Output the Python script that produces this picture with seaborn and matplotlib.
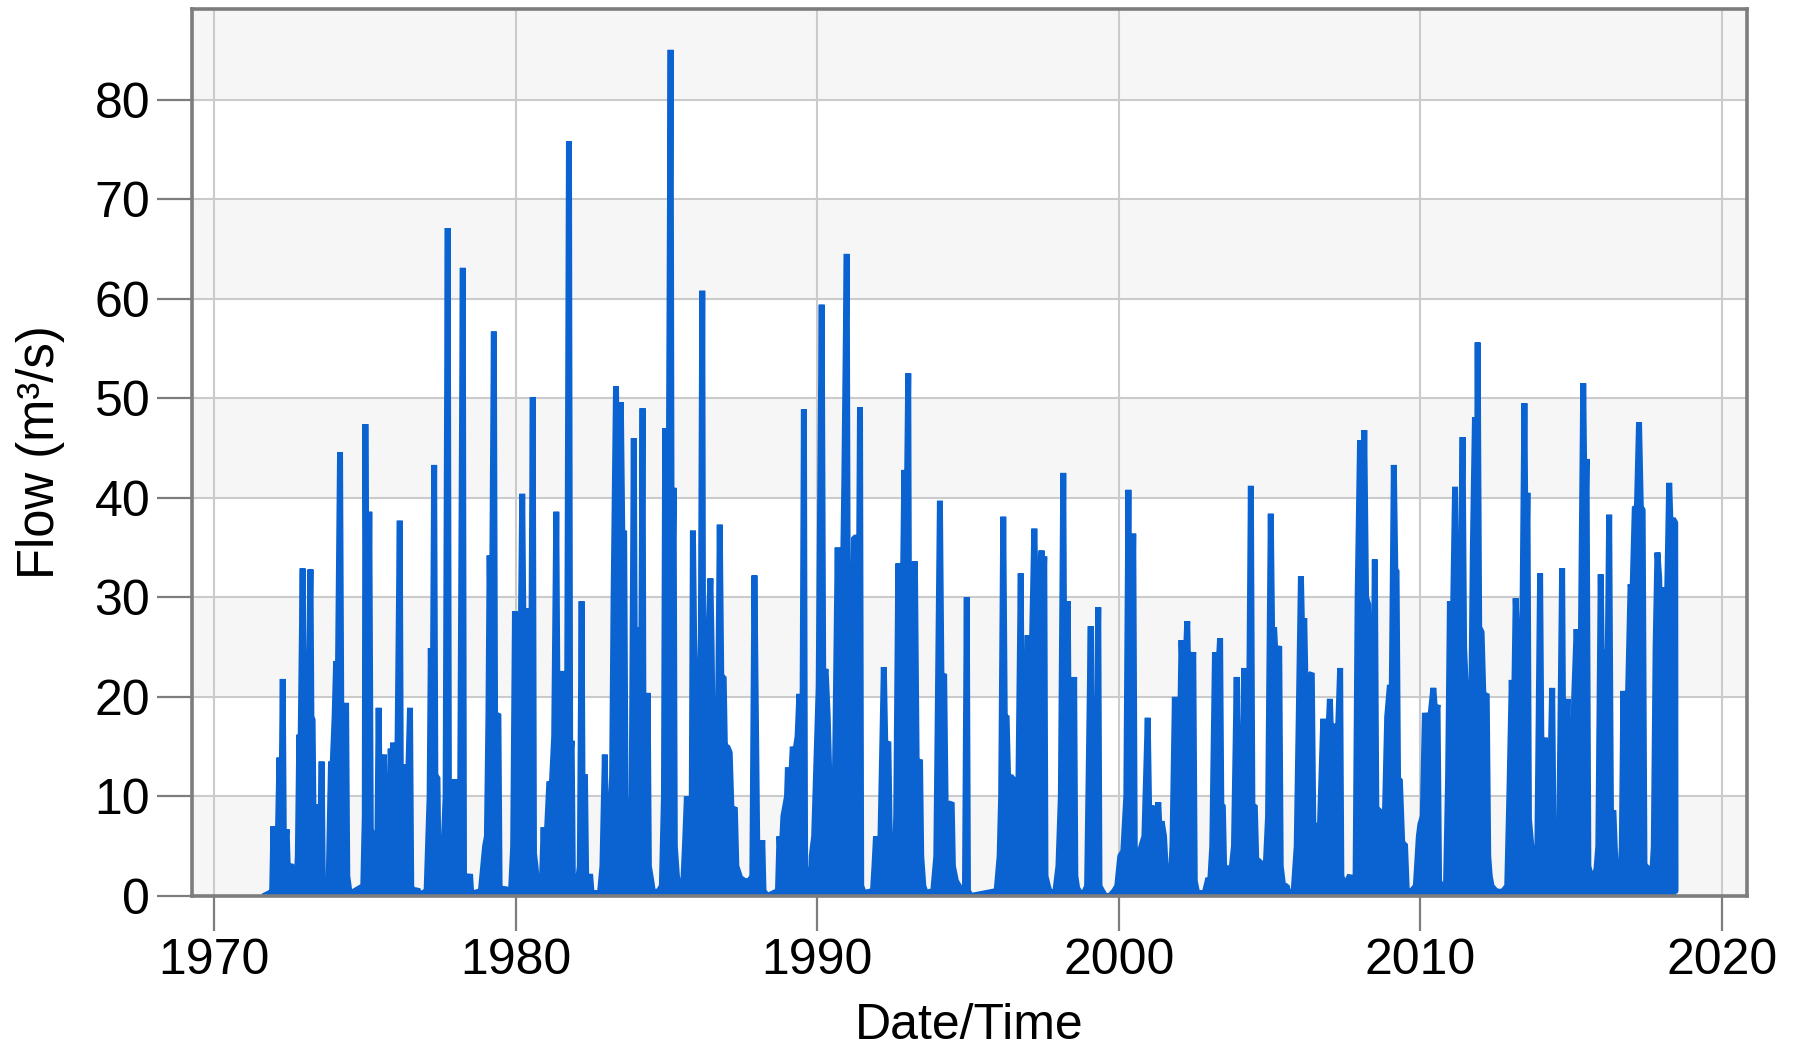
import numpy as np
import pandas as pd
import matplotlib
matplotlib.use("Agg")
import matplotlib.pyplot as plt
import seaborn as sns

# Stream flow record: (decimal year, flow in m³/s) at peaks, shoulders and troughs
flow_1970s = [
    (1971.65, 0.0), (1971.85, 0.3), (1971.93, 0.5),
    (1971.97, 7.0), (1972.00, 1.5), (1972.10, 3.0), (1972.17, 13.9), (1972.22, 3.5),
    (1972.28, 21.8), (1972.32, 4.0), (1972.41, 6.7), (1972.45, 2.5), (1972.56, 3.2),
    (1972.62, 0.8), (1972.72, 0.2),
    (1972.78, 4.0), (1972.83, 16.2), (1972.86, 12.0), (1972.94, 32.9), (1972.98, 14.0),
    (1973.05, 10.0), (1973.10, 14.0), (1973.20, 32.8), (1973.23, 18.0), (1973.27, 17.7),
    (1973.30, 8.0), (1973.38, 9.2), (1973.42, 2.5), (1973.50, 2.0), (1973.57, 13.5),
    (1973.61, 1.0), (1973.70, 0.2),
    (1973.80, 1.0), (1973.88, 13.5), (1973.92, 12.0), (1974.00, 18.0), (1974.05, 23.6),
    (1974.10, 19.0), (1974.18, 44.6), (1974.22, 19.0), (1974.30, 12.0), (1974.38, 19.4),
    (1974.42, 2.0), (1974.50, 0.2),
    (1974.95, 1.0), (1975.00, 8.0), (1975.02, 47.4), (1975.08, 10.0), (1975.15, 38.6),
    (1975.20, 6.5), (1975.24, 6.5), (1975.30, 3.0), (1975.35, 1.0), (1975.42, 6.0),
    (1975.46, 18.9), (1975.50, 8.0), (1975.56, 13.5), (1975.60, 8.0), (1975.64, 14.2),
    (1975.68, 5.0), (1975.80, 3.0), (1975.86, 14.8), (1975.90, 10.0), (1975.94, 15.4),
    (1975.98, 5.0), (1976.05, 4.0), (1976.16, 37.7), (1976.20, 8.0), (1976.33, 13.2),
    (1976.37, 4.0), (1976.50, 18.9), (1976.54, 1.0), (1976.62, 0.2), (1976.75, 0.7),
    (1976.80, 0.1),
    (1977.05, 0.5), (1977.15, 10.0), (1977.19, 24.9), (1977.24, 11.0), (1977.30, 43.3),
    (1977.34, 12.0), (1977.41, 11.9), (1977.45, 1.5), (1977.58, 2.0), (1977.68, 10.0),
    (1977.75, 67.1), (1977.79, 10.0), (1977.90, 4.0), (1977.97, 11.7), (1978.01, 3.0),
    (1978.15, 2.0), (1978.25, 63.1), (1978.29, 2.0), (1978.36, 0.5), (1978.49, 2.2),
    (1978.53, 0.2),
    (1978.85, 0.5), (1978.99, 5.0), (1979.05, 6.0), (1979.10, 18.0), (1979.14, 34.2),
    (1979.20, 20.0), (1979.28, 56.7), (1979.32, 18.0), (1979.43, 18.3), (1979.47, 1.0),
    (1979.55, 0.5), (1979.65, 0.8), (1979.75, 0.3), (1979.85, 0.5), (1979.92, 5.0),
    (1979.98, 28.6),
]

flow_1980s = [
    (1980.02, 8.0), (1980.10, 14.0), (1980.17, 25.0), (1980.22, 40.4), (1980.27, 24.0),
    (1980.33, 22.0), (1980.40, 28.9), (1980.45, 18.0), (1980.50, 12.0), (1980.57, 50.1),
    (1980.61, 4.3), (1980.66, 3.0), (1980.72, 1.0), (1980.80, 0.8),
    (1980.88, 2.0), (1980.93, 6.9), (1980.97, 2.0), (1981.05, 7.0), (1981.12, 11.5),
    (1981.20, 11.0), (1981.28, 16.0), (1981.35, 38.6), (1981.40, 14.0), (1981.50, 16.0),
    (1981.56, 22.6), (1981.62, 14.0), (1981.70, 10.0), (1981.77, 75.8), (1981.81, 14.0),
    (1981.86, 15.6), (1981.90, 1.5), (1981.98, 1.0),
    (1982.05, 1.0), (1982.13, 3.0), (1982.19, 29.6), (1982.23, 4.0), (1982.30, 12.2),
    (1982.34, 2.0), (1982.40, 1.0), (1982.47, 2.2), (1982.52, 0.3),
    (1982.80, 0.3), (1982.88, 3.0), (1982.96, 14.2), (1983.00, 4.0), (1983.10, 6.0),
    (1983.20, 12.0), (1983.25, 30.0), (1983.33, 51.2), (1983.38, 35.0), (1983.45, 32.0),
    (1983.49, 49.6), (1983.54, 36.0), (1983.60, 36.7), (1983.65, 8.0), (1983.75, 4.0),
    (1983.85, 10.0), (1983.92, 46.0), (1983.96, 20.0), (1984.02, 27.0), (1984.08, 10.0),
    (1984.15, 12.0), (1984.21, 49.0), (1984.25, 6.0), (1984.30, 4.0), (1984.38, 20.4),
    (1984.42, 3.0), (1984.50, 1.5), (1984.56, 0.3),
    (1984.75, 0.5), (1984.85, 1.0), (1984.92, 10.0), (1984.96, 47.0), (1985.00, 40.0),
    (1985.08, 41.0), (1985.14, 85.0), (1985.18, 25.0), (1985.24, 41.0), (1985.28, 5.0),
    (1985.35, 2.0), (1985.45, 0.5),
    (1985.55, 0.5), (1985.62, 5.3), (1985.68, 10.0), (1985.75, 4.0), (1985.84, 8.0),
    (1985.88, 36.7), (1985.92, 26.0), (1985.98, 20.0), (1986.05, 20.0), (1986.12, 8.0),
    (1986.19, 60.8), (1986.23, 6.0), (1986.30, 8.0), (1986.38, 25.0), (1986.46, 31.9),
    (1986.50, 25.0), (1986.58, 6.0), (1986.65, 6.0), (1986.72, 20.0), (1986.77, 37.3),
    (1986.82, 22.0), (1986.90, 22.0), (1986.94, 15.0), (1987.02, 15.0), (1987.10, 14.4),
    (1987.16, 8.5), (1987.27, 8.9), (1987.32, 3.0), (1987.45, 1.8), (1987.60, 1.5),
    (1987.75, 1.5), (1987.85, 2.0), (1987.92, 32.2), (1987.97, 18.0), (1988.02, 3.0),
    (1988.10, 2.0), (1988.18, 5.6), (1988.22, 0.5), (1988.35, 0.0),
    (1988.70, 0.5), (1988.75, 6.0), (1988.80, 3.0), (1988.88, 8.0), (1989.00, 10.0),
    (1989.03, 12.9), (1989.08, 8.0), (1989.19, 15.0), (1989.25, 14.0), (1989.35, 16.0),
    (1989.41, 20.3), (1989.45, 10.0), (1989.50, 8.0), (1989.56, 48.9), (1989.60, 3.0),
    (1989.70, 1.0), (1989.78, 0.5), (1989.82, 4.0), (1989.90, 6.0),
]

flow_1990s = [
    (1990.05, 21.0), (1990.15, 59.4), (1990.20, 22.0), (1990.28, 22.8), (1990.35, 18.0),
    (1990.42, 10.0), (1990.48, 0.5), (1990.55, 2.0), (1990.62, 20.0), (1990.68, 35.0),
    (1990.73, 20.0), (1990.80, 20.0), (1990.90, 41.7), (1990.98, 64.5), (1991.03, 13.0),
    (1991.12, 13.0), (1991.22, 36.0), (1991.30, 36.0), (1991.35, 13.0), (1991.42, 49.1),
    (1991.46, 1.0), (1991.55, 0.3),
    (1991.85, 0.5), (1991.90, 3.0), (1991.95, 6.0), (1991.99, 3.0), (1992.10, 6.0),
    (1992.21, 23.0), (1992.26, 15.0), (1992.36, 15.5), (1992.42, 3.0), (1992.48, 1.0),
    (1992.55, 1.0), (1992.62, 8.0), (1992.69, 33.4), (1992.75, 20.0), (1992.82, 25.0),
    (1992.89, 42.8), (1992.94, 30.0), (1993.02, 52.5), (1993.06, 12.0), (1993.15, 12.0),
    (1993.24, 33.6), (1993.30, 13.0), (1993.41, 13.7), (1993.45, 4.0), (1993.52, 1.0),
    (1993.60, 0.3),
    (1993.85, 0.5), (1993.95, 4.0), (1994.07, 39.7), (1994.12, 22.0), (1994.21, 22.3),
    (1994.26, 9.0), (1994.35, 9.0), (1994.46, 9.4), (1994.50, 3.0), (1994.60, 1.5),
    (1994.70, 1.0), (1994.80, 0.3), (1994.90, 0.5), (1994.96, 30.0), (1995.00, 0.5),
    (1995.10, 0.0),
    (1995.95, 0.5), (1996.05, 4.0), (1996.10, 10.0), (1996.17, 38.1), (1996.22, 18.0),
    (1996.28, 18.1), (1996.33, 12.0), (1996.48, 11.9), (1996.52, 2.0), (1996.58, 1.5),
    (1996.65, 5.0), (1996.75, 32.4), (1996.80, 8.0), (1996.88, 8.0), (1996.98, 26.2),
    (1997.02, 8.0), (1997.10, 22.0), (1997.20, 36.9), (1997.25, 30.0), (1997.35, 30.0),
    (1997.44, 34.7), (1997.49, 30.0), (1997.53, 34.1), (1997.57, 2.0), (1997.65, 1.0),
    (1997.72, 0.3),
    (1997.90, 0.5), (1998.00, 3.0), (1998.08, 10.0), (1998.16, 42.5), (1998.21, 12.0),
    (1998.31, 29.6), (1998.36, 6.0), (1998.44, 4.0), (1998.52, 22.0), (1998.56, 2.0),
    (1998.62, 0.8), (1998.72, 0.3),
    (1998.85, 0.3), (1998.95, 1.0), (1999.07, 27.1), (1999.11, 1.5), (1999.20, 1.5),
    (1999.32, 29.0), (1999.36, 1.0), (1999.45, 0.5), (1999.55, 0.0),
    (1999.70, 0.0), (1999.85, 0.5), (1999.95, 1.0),
]

flow_2000s = [
    (2000.05, 4.0), (2000.15, 4.5), (2000.25, 10.0), (2000.32, 40.8), (2000.37, 10.0),
    (2000.48, 36.4), (2000.53, 5.0), (2000.62, 3.0), (2000.75, 5.0), (2000.85, 6.0),
    (2000.96, 17.9), (2001.01, 8.0), (2001.09, 9.1), (2001.15, 6.0), (2001.23, 7.0),
    (2001.31, 9.4), (2001.36, 6.0), (2001.42, 7.5), (2001.50, 6.0), (2001.58, 1.5),
    (2001.68, 0.3),
    (2001.70, 0.3), (2001.78, 5.0), (2001.86, 20.0), (2001.92, 10.0), (2002.00, 10.0),
    (2002.08, 25.7), (2002.14, 20.0), (2002.20, 22.0), (2002.27, 27.6), (2002.32, 20.0),
    (2002.40, 22.0), (2002.47, 24.5), (2002.52, 1.5), (2002.60, 0.3),
    (2002.85, 0.3), (2002.97, 1.8), (2003.02, 0.8), (2003.10, 5.0), (2003.19, 24.5),
    (2003.25, 20.0), (2003.36, 25.9), (2003.40, 9.1), (2003.45, 9.1), (2003.50, 2.0),
    (2003.63, 3.0), (2003.70, 1.5), (2003.82, 5.0), (2003.91, 22.0), (2003.96, 5.0),
    (2004.05, 6.0), (2004.16, 22.9), (2004.22, 8.0), (2004.30, 10.0), (2004.38, 41.2),
    (2004.43, 9.0), (2004.51, 9.1), (2004.56, 3.5), (2004.68, 3.5), (2004.75, 1.0),
    (2004.85, 1.5), (2004.95, 8.0), (2005.04, 38.4), (2005.09, 25.0), (2005.15, 27.0),
    (2005.20, 24.0), (2005.32, 25.1), (2005.37, 3.0), (2005.45, 1.0), (2005.57, 1.0),
    (2005.62, 0.3),
    (2005.80, 0.5), (2005.90, 5.0), (2006.04, 32.1), (2006.09, 25.0), (2006.15, 27.9),
    (2006.20, 20.0), (2006.30, 22.0), (2006.40, 22.4), (2006.45, 7.2), (2006.51, 7.2),
    (2006.56, 1.5), (2006.65, 5.0), (2006.78, 17.8), (2006.84, 14.0), (2006.93, 15.0),
    (2007.00, 19.8), (2007.06, 14.0), (2007.17, 17.3), (2007.22, 12.0), (2007.34, 22.9),
    (2007.38, 2.0), (2007.50, 1.0), (2007.67, 2.1), (2007.72, 0.5),
    (2007.85, 1.0), (2007.92, 30.0), (2008.00, 45.8), (2008.06, 25.0), (2008.14, 46.8),
    (2008.20, 30.0), (2008.27, 29.3), (2008.35, 12.0), (2008.42, 10.0), (2008.49, 33.8),
    (2008.54, 8.6), (2008.66, 8.6), (2008.72, 2.0), (2008.80, 5.0), (2008.90, 18.0),
    (2008.99, 21.2), (2009.05, 20.0), (2009.12, 43.3), (2009.17, 32.7), (2009.21, 32.7),
    (2009.26, 11.7), (2009.32, 11.7), (2009.40, 5.2), (2009.49, 5.2), (2009.55, 0.5),
    (2009.65, 0.3),
    (2009.85, 1.0), (2009.95, 6.0),
]

flow_2010s = [
    (2010.00, 7.2), (2010.08, 8.0), (2010.15, 18.4), (2010.22, 16.0), (2010.30, 17.0),
    (2010.43, 20.9), (2010.50, 18.0), (2010.57, 19.2), (2010.62, 1.5), (2010.70, 1.0),
    (2010.80, 1.0),
    (2010.85, 1.0), (2010.92, 12.0), (2010.98, 29.6), (2011.04, 20.0), (2011.15, 41.1),
    (2011.20, 22.0), (2011.30, 22.0), (2011.40, 46.1), (2011.45, 25.0), (2011.52, 20.0),
    (2011.59, 8.3), (2011.66, 10.0), (2011.74, 35.0), (2011.81, 48.1), (2011.86, 25.0),
    (2011.90, 55.6), (2011.95, 27.0), (2012.03, 26.5), (2012.09, 20.0), (2012.20, 20.3),
    (2012.25, 4.0), (2012.30, 2.0), (2012.36, 1.0), (2012.50, 0.5), (2012.64, 0.4),
    (2012.75, 0.5),
    (2012.88, 1.0), (2012.95, 10.0), (2013.03, 21.7), (2013.09, 15.0), (2013.16, 29.9),
    (2013.22, 25.0), (2013.30, 26.5), (2013.36, 20.0), (2013.45, 49.5), (2013.50, 30.0),
    (2013.55, 40.5), (2013.60, 7.7), (2013.68, 5.0), (2013.80, 4.6), (2013.88, 5.0),
    (2013.97, 32.4), (2014.03, 8.0), (2014.13, 15.9), (2014.20, 12.0), (2014.28, 8.0),
    (2014.37, 20.9), (2014.42, 5.0), (2014.52, 4.9), (2014.60, 5.0), (2014.70, 32.9),
    (2014.75, 8.0), (2014.88, 19.8), (2014.95, 6.0), (2015.02, 6.0), (2015.10, 20.0),
    (2015.18, 26.8), (2015.24, 22.0), (2015.32, 25.0), (2015.40, 51.5), (2015.46, 35.0),
    (2015.51, 43.9), (2015.57, 3.0), (2015.68, 1.6), (2015.76, 2.0), (2015.84, 2.7),
    (2015.90, 5.0), (2015.98, 32.3), (2016.03, 20.0), (2016.09, 24.8), (2016.16, 8.0),
    (2016.26, 38.3), (2016.32, 8.0), (2016.40, 8.6), (2016.47, 3.0), (2016.57, 3.0),
    (2016.62, 1.0), (2016.68, 5.0), (2016.73, 20.6), (2016.78, 12.0), (2016.84, 14.2),
    (2016.90, 22.0), (2016.97, 31.3), (2017.03, 30.0), (2017.11, 39.1), (2017.18, 39.0),
    (2017.25, 47.6), (2017.31, 39.0), (2017.37, 38.8), (2017.43, 3.0), (2017.50, 3.0),
    (2017.58, 1.0), (2017.66, 0.7), (2017.74, 5.0), (2017.80, 25.0), (2017.86, 34.5),
    (2017.92, 31.9), (2017.98, 20.0), (2018.05, 22.0), (2018.11, 31.0), (2018.18, 30.0),
    (2018.25, 41.5), (2018.31, 36.0), (2018.37, 37.9), (2018.45, 37.5), (2018.46, 0.5),
]

year_ticks = [1970, 1980, 1990, 2000, 2010, 2020]
flow_ticks = [0, 10, 20, 30, 40, 50, 60, 70, 80]

LINE_BLUE = "#0a63d0"
FRAME_GREY = "#7d7d7d"

records = flow_1970s + flow_1980s + flow_1990s + flow_2000s + flow_2010s
df = pd.DataFrame(records, columns=["Date/Time", "Flow"])

sns.set_theme(style="whitegrid")
plt.rcParams["font.family"] = ["Liberation Sans", "DejaVu Sans"]

fig = plt.figure(figsize=(17.94, 10.5), dpi=100)
ax = fig.add_axes([0.107, 0.1467, 0.8668, 0.8447])
ax.set_facecolor("white")

ax.set_xlim(1969.27, 2020.83)
ax.set_ylim(0, 89.1)

# faint alternating horizontal bands behind the grid
for lo in range(0, 90, 20):
    ax.axhspan(lo, lo + 10, color="#f6f6f6", lw=0, zorder=0)

ax.set_axisbelow(True)
ax.grid(True, color="#cbcbcb", lw=1.5)

ax.fill_between(df["Date/Time"], 0, df["Flow"], color=LINE_BLUE, lw=0, zorder=2)
sns.lineplot(data=df, x="Date/Time", y="Flow", ax=ax, color=LINE_BLUE, lw=4.3,
             estimator=None, sort=False, zorder=3, solid_joinstyle="bevel")

ax.set_xticks(year_ticks)
ax.set_yticks(flow_ticks)
ax.set_xticklabels([str(y) for y in year_ticks])
ax.set_yticklabels([str(f) for f in flow_ticks])

for side in ["left", "right", "top", "bottom"]:
    ax.spines[side].set_visible(True)
    ax.spines[side].set_color(FRAME_GREY)
    ax.spines[side].set_linewidth(2.6)
    ax.spines[side].set_zorder(5)

ax.tick_params(axis="both", which="major", bottom=True, left=True, direction="out",
               length=25, width=1.6, color=FRAME_GREY, labelsize=36, labelcolor="black",
               pad=5)

ax.set_xlabel("Date/Time", fontsize=36, color="black", labelpad=14)
ax.set_ylabel("Flow (m³/s)", fontsize=36.5, color="black", labelpad=21)

fig.savefig("out.png", dpi=100, facecolor="white")
